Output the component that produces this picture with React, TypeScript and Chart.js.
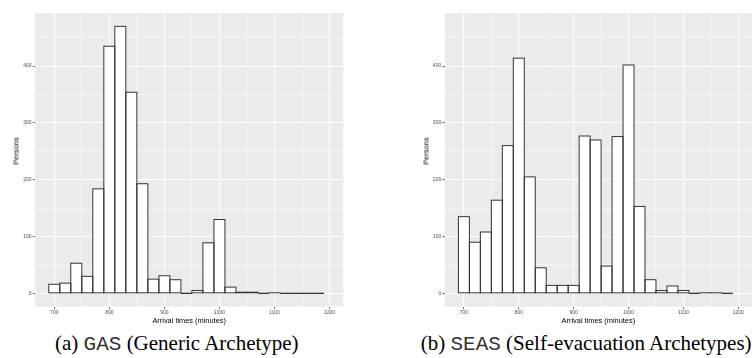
import React, { useEffect, useRef } from "react";
import { Chart, registerables } from "chart.js";

Chart.register(...registerables);

// ---- data ----
const binStart = 690;
const binWidth = 20;
const gasCounts = [16, 18, 53, 30, 184, 435, 470, 354, 193, 25, 31, 24, 0, 5, 89, 130, 11, 2, 2, 0, 1, 0, 0, 0, 0];
const seasCounts = [135, 90, 108, 164, 260, 414, 205, 45, 14, 14, 14, 277, 270, 48, 276, 402, 153, 24, 5, 13, 5, 0, 1, 1, 0];
const xMajorTicks = [700, 800, 900, 1000, 1100, 1200];
const xMinorTicks = [750, 850, 950, 1050, 1150];
const yMajorTicks = [0, 100, 200, 300, 400];
const yMinorTicks = [50, 150, 250, 350, 450];
const xRange = [665, 1225];
const yRange = [-23.5, 493.5];
const xTitle = "Arrival times (minutes)";
const yTitle = "Persons";

const W = 378;
const H = 330;
const CHART_TOP = 13;
const CHART_BOTTOM = 306.7;

Chart.defaults.font.family = "'Liberation Sans', Arial, sans-serif";

const bgPlugin = {
  id: "panelBg",
  beforeDraw(chart: any) {
    const { ctx, chartArea } = chart;
    ctx.save();
    ctx.fillStyle = "#EBEBEB";
    ctx.fillRect(chartArea.left, chartArea.top, chartArea.right - chartArea.left, chartArea.bottom - chartArea.top);
    ctx.restore();
  },
};

const outlinePlugin = {
  id: "barOutline",
  afterDatasetsDraw(chart: any) {
    const { ctx } = chart;
    const meta = chart.getDatasetMeta(0);
    ctx.save();
    ctx.strokeStyle = "#333333";
    ctx.lineWidth = 1;
    meta.data.forEach((el: any) => {
      const { x, y, base, width } = el.getProps(["x", "y", "base", "width"], true);
      const l = x - width / 2;
      const t = Math.min(y, base);
      const h = Math.abs(base - y);
      ctx.strokeRect(l, t, width, h);
    });
    ctx.restore();
  },
};

function Histogram(props: { counts: number[]; left: number; chartLeft: number; chartRight: number; personsX: number }) {
  const { counts, left, chartLeft, chartRight, personsX } = props;
  const ref = useRef<HTMLCanvasElement>(null);

  useEffect(() => {
    if (!ref.current) return;
    const data = counts.map((c, i) => ({ x: binStart + binWidth * (i + 0.5), y: c }));
    const xTicks = [...xMajorTicks, ...xMinorTicks].sort((a, b) => a - b);
    const yTicks = [...yMajorTicks, ...yMinorTicks].sort((a, b) => a - b);
    const chart = new Chart(ref.current, {
      type: "bar",
      data: {
        datasets: [
          {
            data: data as any,
            backgroundColor: "#FFFFFF",
            borderWidth: 0,
            barPercentage: 1,
            categoryPercentage: 1,
          },
        ],
      },
      options: {
        animation: false,
        responsive: false,
        devicePixelRatio: 1,
        layout: { padding: { top: CHART_TOP, right: W - chartRight, left: 0, bottom: 0 } },
        plugins: { legend: { display: false }, tooltip: { enabled: false } },
        scales: {
          x: {
            type: "linear",
            offset: false,
            min: xRange[0],
            max: xRange[1],
            afterBuildTicks: (s: any) => {
              s.ticks = xTicks.map((v) => ({ value: v }));
            },
            afterFit: (s: any) => {
              s.height = H - CHART_BOTTOM;
            },
            border: { display: false },
            grid: {
              offset: false,
              color: "#FFFFFF",
              lineWidth: (c: any) => (xMajorTicks.includes(c.tick?.value) ? 1.1 : 0.5),
              tickLength: 2.5,
              tickWidth: 0.7,
              tickColor: (c: any) => (xMajorTicks.includes(c.tick?.value) ? "#333333" : "rgba(0,0,0,0)"),
            },
            ticks: {
              autoSkip: false,
              maxRotation: 0,
              padding: 0,
              color: "#4D4D4D",
              font: { size: 5 },
              callback: (v: any) => (xMajorTicks.includes(Number(v)) ? String(v) : ""),
            },
            title: {
              display: true,
              text: xTitle,
              color: "#000000",
              font: { size: 7.4 },
              padding: { top: 0, bottom: 4.3 },
            },
          },
          y: {
            type: "linear",
            min: yRange[0],
            max: yRange[1],
            afterBuildTicks: (s: any) => {
              s.ticks = yTicks.map((v) => ({ value: v }));
            },
            afterFit: (s: any) => {
              s.width = chartLeft;
            },
            border: { display: false },
            grid: {
              color: "#FFFFFF",
              lineWidth: (c: any) => (yMajorTicks.includes(c.tick?.value) ? 1.1 : 0.5),
              tickLength: 2.5,
              tickWidth: 0.7,
              tickColor: (c: any) => (yMajorTicks.includes(c.tick?.value) ? "#333333" : "rgba(0,0,0,0)"),
            },
            ticks: {
              autoSkip: false,
              padding: 1,
              color: "#4D4D4D",
              font: { size: 5 },
              callback: (v: any) => (yMajorTicks.includes(Number(v)) ? String(v) : ""),
            },
          },
        },
      },
      plugins: [bgPlugin, outlinePlugin],
    });
    return () => chart.destroy();
  }, []);

  return (
    <>
      <canvas
        ref={ref}
        width={W}
        height={H}
        style={{ position: "absolute", left, top: 0, width: W, height: H }}
      />
      <div
        style={{
          position: "absolute",
          left: left + personsX,
          top: 150.5,
          transform: "translate(-50%, -50%) rotate(-90deg)",
          whiteSpace: "nowrap",
          fontFamily: "'Liberation Sans', Arial, sans-serif",
          fontSize: 7.5,
          lineHeight: "9px",
          color: "#000",
        }}
      >
        {yTitle}
      </div>
    </>
  );
}

const captionStyle: React.CSSProperties = {
  position: "absolute",
  top: 333,
  whiteSpace: "nowrap",
  fontFamily: "'Liberation Serif', 'Times New Roman', serif",
  fontSize: 21,
  lineHeight: "21px",
  color: "#000",
};
const monoStyle: React.CSSProperties = {
  fontFamily: "'Liberation Mono', 'Courier New', monospace",
  fontSize: 21,
  color: "#333",
};

export default function App() {
  return (
    <div
      style={{
        position: "fixed",
        left: 0,
        top: 0,
        width: 756,
        height: 358,
        background: "#FFFFFF",
        overflow: "hidden",
      }}
    >
      <Histogram counts={gasCounts} left={0} chartLeft={35} chartRight={343.3} personsX={16.2} />
      <Histogram counts={seasCounts} left={378} chartLeft={66.7} chartRight={374} personsX={47.5} />
      <div style={{ ...captionStyle, left: 55 }}>
        (a) <span style={monoStyle}>GAS</span> (Generic Archetype)
      </div>
      <div style={{ ...captionStyle, left: 420.7 }}>
        (b) <span style={monoStyle}>SEAS</span> (Self-evacuation Archetypes)
      </div>
    </div>
  );
}
